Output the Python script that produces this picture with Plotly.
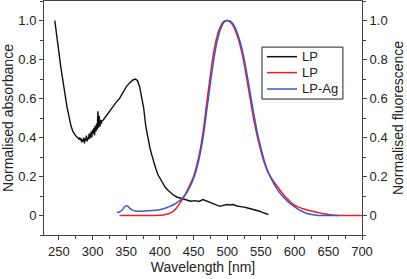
import plotly.graph_objects as go

# Absorbance (LP)
abs_wl = [244, 247, 250, 253, 256, 259, 262, 265, 268, 271, 274, 276, 278, 280, 281, 282, 283, 284,
          285, 286, 287, 288, 289, 290, 291, 292, 293, 294, 295, 296, 297, 298, 299, 300, 301, 302,
          303, 304, 305, 306, 307, 308, 309, 310, 311, 312, 313, 314, 316, 318, 320,
          325, 330, 335, 340, 345, 350, 355, 360, 364, 367, 370, 373, 376, 379, 382, 385, 388, 391,
          394, 397, 400, 404, 408, 412, 416, 420, 425, 430, 435, 440, 446, 452, 458, 464, 470, 475,
          480, 485, 489, 494, 500, 505, 509, 514, 520, 525, 529, 534, 540, 544, 548, 552, 556, 561]
abs_val = [1.00, 0.93, 0.84, 0.76, 0.69, 0.62, 0.56, 0.51, 0.46, 0.43, 0.41, 0.405, 0.40, 0.39,
           0.40, 0.385, 0.395, 0.375, 0.39, 0.38, 0.40, 0.37, 0.395, 0.385, 0.41, 0.38, 0.40, 0.39,
           0.42, 0.395, 0.41, 0.43, 0.40, 0.44, 0.42, 0.45, 0.41, 0.46, 0.43, 0.47, 0.44, 0.535,
           0.45, 0.51, 0.455, 0.49, 0.47, 0.485, 0.49, 0.50, 0.51,
           0.53, 0.56, 0.58, 0.60, 0.63, 0.66, 0.68, 0.695, 0.70,
           0.69, 0.66, 0.61, 0.55, 0.46, 0.40, 0.35, 0.31, 0.27, 0.24, 0.21, 0.19, 0.165, 0.145, 0.13,
           0.116, 0.105, 0.095, 0.09, 0.082, 0.078, 0.073, 0.076, 0.072, 0.082, 0.074, 0.068, 0.062,
           0.055, 0.047, 0.052, 0.056, 0.054, 0.056, 0.049, 0.047, 0.043, 0.04, 0.036, 0.03, 0.027,
           0.022, 0.016, 0.01, 0.005]

# Fluorescence (LP)
fl_wl = [340, 350, 360, 370, 380, 390, 400, 405, 410, 415, 420, 425, 430, 435, 440, 445, 450, 455,
         460, 465, 470, 475, 480, 485, 490, 495, 500, 505, 510, 515, 520, 525, 530, 535, 540, 545,
         550, 555, 560, 565, 570, 575, 580, 585, 590, 595, 600, 605, 610, 615, 620, 625, 630, 635,
         640, 645, 650, 655, 660, 665, 670, 680, 690, 700]
fl_lp = [0.0, 0.0, 0.0, 0.0, 0.0, 0.0, 0.001, 0.003, 0.006, 0.012, 0.022, 0.04, 0.065, 0.092, 0.124,
         0.16, 0.20, 0.26, 0.34, 0.45, 0.59, 0.72, 0.84, 0.92, 0.97, 0.995, 1.0, 0.99, 0.965, 0.92,
         0.86, 0.78, 0.68, 0.58, 0.48, 0.40, 0.33, 0.27, 0.225, 0.195, 0.168, 0.145, 0.122, 0.10,
         0.083, 0.066, 0.052, 0.044, 0.038, 0.032, 0.027, 0.023, 0.019, 0.015, 0.011, 0.008, 0.005,
         0.003, 0.001, 0.0, 0.0, 0.0, 0.0, 0.0]

# Fluorescence (LP-Ag)
ag_wl = [336, 340, 344, 347, 350, 353, 356, 360, 365, 370, 380, 390, 400, 405, 410, 415, 420, 425,
         430, 435, 440, 445, 450, 455, 460, 465, 470, 475, 480, 485, 490, 495, 500, 505, 510, 515,
         520, 525, 530, 535, 540, 545, 550, 555, 560, 565, 570, 575, 580, 585, 590, 595, 600, 605,
         610, 615, 620, 625, 630, 635, 645, 655, 665]
ag_val = [0.016, 0.018, 0.028, 0.042, 0.05, 0.046, 0.035, 0.026, 0.022, 0.022, 0.024, 0.026, 0.03,
          0.035, 0.04, 0.047, 0.055, 0.065, 0.078, 0.095, 0.118, 0.15, 0.19, 0.245, 0.32, 0.42, 0.55,
          0.68, 0.80, 0.895, 0.955, 0.99, 1.0, 0.995, 0.975, 0.935, 0.88, 0.805, 0.71, 0.61, 0.51,
          0.42, 0.345, 0.28, 0.23, 0.19, 0.158, 0.13, 0.107, 0.088, 0.071, 0.057, 0.044, 0.033,
          0.023, 0.015, 0.009, 0.005, 0.002, 0.0, 0.0, 0.0, 0.0]

x_ticks = [250, 300, 350, 400, 450, 500, 550, 600, 650, 700]
y_ticks = [0, 0.2, 0.4, 0.6, 0.8, 1.0]
y_ticktext = ["0", "0.2", "0.4", "0.6", "0.8", "1.0"]

legend_names = ["LP", "LP", "LP-Ag"]
colors = ["#111111", "#f01c24", "#3a58c4"]

FONT = "Liberation Sans, Arial, Helvetica, sans-serif"
AXC = "#444444"

fig = go.Figure()
fig.add_trace(go.Scatter(x=abs_wl, y=abs_val, mode="lines", name=legend_names[0],
                         line=dict(color=colors[0], width=1.4)))
fig.add_trace(go.Scatter(x=fl_wl, y=fl_lp, mode="lines", name=legend_names[1], yaxis="y2",
                         line=dict(color=colors[1], width=1.5, shape="spline", smoothing=0.6)))
fig.add_trace(go.Scatter(x=ag_wl, y=ag_val, mode="lines", name=legend_names[2], yaxis="y2",
                         line=dict(color=colors[2], width=1.5, shape="spline", smoothing=0.6)))

# compact legend box (drawn in paper coordinates)
fig.add_shape(type="rect", xref="paper", yref="paper", x0=0.6855, x1=0.940, y0=0.581, y1=0.803,
              line=dict(color="#222", width=1), fillcolor="white", layer="above")
leg_y = [0.762, 0.694, 0.624]
for name, col, yy in zip(legend_names, colors, leg_y):
    fig.add_shape(type="line", xref="paper", yref="paper", x0=0.701, x1=0.7956, y0=yy, y1=yy,
                  line=dict(color=col, width=1.5), layer="above")
    fig.add_annotation(xref="paper", yref="paper", x=0.806, y=yy, text=name, showarrow=False,
                       xanchor="left", yanchor="middle", font=dict(size=13, color="#222"))

yax_common = dict(range=[-0.1, 1.1], tickvals=y_ticks, ticktext=y_ticktext,
                  ticks="outside", ticklen=4, tickcolor=AXC, showline=True, linecolor=AXC,
                  linewidth=1, showgrid=False, zeroline=False, automargin=False,
                  minor=dict(dtick=0.1, tick0=0, ticks="outside", ticklen=3, tickcolor=AXC),
                  tickfont=dict(size=13, color="#222"))

fig.update_layout(
    width=407, height=279,
    margin=dict(l=44, r=45, t=1, b=44),
    paper_bgcolor="white", plot_bgcolor="white",
    font=dict(family=FONT, size=13, color="#222"),
    showlegend=False,
    xaxis=dict(range=[228, 700], tickvals=x_ticks, ticks="outside", ticklen=4,
               tickcolor=AXC, showline=True, linecolor=AXC, linewidth=1, mirror=True,
               showgrid=False, zeroline=False, automargin=False,
               minor=dict(dtick=25, tick0=225, ticks="outside", ticklen=3, tickcolor=AXC),
               tickfont=dict(size=13, color="#222"),
               title=dict(text="Wavelength [nm]", font=dict(size=14), standoff=0)),
    yaxis=dict(**yax_common,
               title=dict(text="Normalised absorbance", font=dict(size=14), standoff=4)),
    yaxis2=dict(**yax_common, overlaying="y", side="right",
                title=dict(text="Normalised fluorescence", font=dict(size=14), standoff=6)),
)

fig.write_html("out.html", config={"displayModeBar": False, "staticPlot": True},
               post_script="document.body.style.margin='0';document.body.style.padding='0';")
